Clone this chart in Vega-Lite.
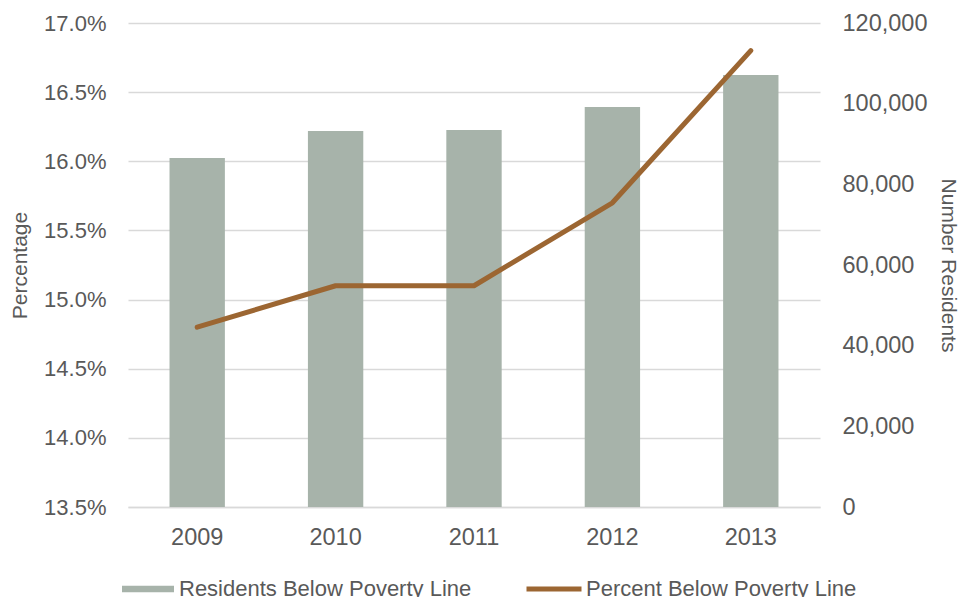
{
  "$schema": "https://vega.github.io/schema/vega-lite/v6.json",
  "width": 692,
  "height": 484,
  "autosize": {"type": "none"},
  "padding": {"left": 128, "top": 23, "right": 141, "bottom": 90},
  "background": "white",
  "config": {
    "font": "Liberation Sans",
    "view": {"stroke": null},
    "axis": {"labelFont": "Liberation Sans", "labelFontSize": 22, "labelColor": "#595959", "titleFont": "Liberation Sans", "titleFontSize": 21, "titleColor": "#595959", "titleFontWeight": "normal", "ticks": false, "domain": false, "labelOverlap": false},
    "legend": {"labelFont": "Liberation Sans", "labelFontSize": 22, "labelColor": "#595959", "orient": "none", "title": null, "labelLimit": 0}
  },
  "data": {
    "values": [
      {"year": "2009", "residents": 86500, "percent": 0.148, "bs": "Residents Below Poverty Line", "ls": "Percent Below Poverty Line"},
      {"year": "2010", "residents": 93200, "percent": 0.151, "bs": "Residents Below Poverty Line", "ls": "Percent Below Poverty Line"},
      {"year": "2011", "residents": 93500, "percent": 0.151, "bs": "Residents Below Poverty Line", "ls": "Percent Below Poverty Line"},
      {"year": "2012", "residents": 99200, "percent": 0.157, "bs": "Residents Below Poverty Line", "ls": "Percent Below Poverty Line"},
      {"year": "2013", "residents": 107100, "percent": 0.168, "bs": "Residents Below Poverty Line", "ls": "Percent Below Poverty Line"}
    ]
  },
  "encoding": {
    "x": {
      "field": "year", "type": "ordinal",
      "scale": {"paddingInner": 0.6, "paddingOuter": 0.3},
      "axis": {"title": null, "labelAngle": 0, "labelFontSize": 23.5, "labelPadding": 18, "domain": true, "domainColor": "#d9d9d9", "domainWidth": 1.5}
    }
  },
  "layer": [
    {
      "mark": {"type": "bar", "color": "#a7b3aa"},
      "encoding": {
        "y": {
          "field": "residents", "type": "quantitative",
          "scale": {"domain": [0, 120000], "nice": false},
          "axis": {"orient": "right", "title": "Number Residents", "format": ",.0f", "values": [0, 20000, 40000, 60000, 80000, 100000, 120000], "grid": false, "labelFontSize": 23.5, "labelPadding": 22, "titlePadding": 11}
        },
        "fill": {
          "field": "bs", "type": "nominal",
          "scale": {"range": ["#a7b3aa"]},
          "legend": {"symbolType": "M-1,-0.125H1V0.125H-1Z", "symbolSize": 2704, "symbolStrokeWidth": 0, "labelOffset": 5, "legendX": -6, "legendY": 540}
        }
      }
    },
    {
      "mark": {"type": "line", "color": "#9c6632", "strokeWidth": 5, "strokeCap": "round", "strokeJoin": "round"},
      "encoding": {
        "y": {
          "field": "percent", "type": "quantitative",
          "scale": {"domain": [0.135, 0.17], "nice": false, "zero": false},
          "axis": {"orient": "left", "title": "Percentage", "format": ".1%", "values": [0.135, 0.14, 0.145, 0.15, 0.155, 0.16, 0.165, 0.17], "grid": true, "gridColor": "#d9d9d9", "gridWidth": 1.5, "labelPadding": 22, "titlePadding": 13}
        },
        "stroke": {
          "field": "ls", "type": "nominal",
          "scale": {"range": ["#9c6632"]},
          "legend": {"symbolType": "stroke", "symbolSize": 3025, "symbolStrokeWidth": 5, "labelOffset": 2, "legendX": 396, "legendY": 536}
        }
      }
    }
  ],
  "resolve": {"scale": {"y": "independent", "fill": "independent", "stroke": "independent"}}
}
